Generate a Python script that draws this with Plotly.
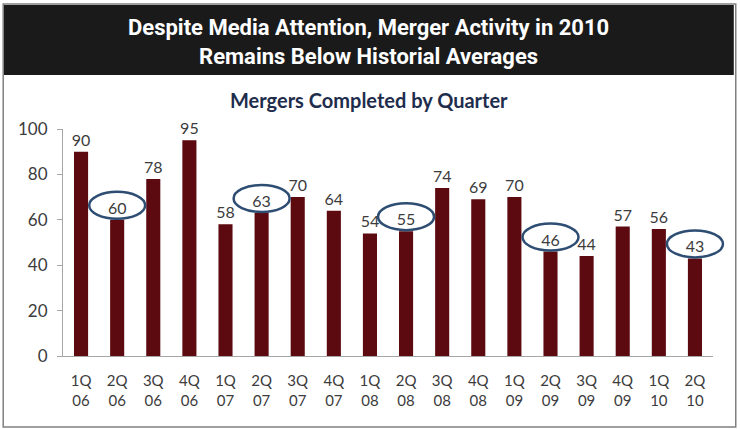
import plotly.graph_objects as go

# Data
quarters = ["1Q", "2Q", "3Q", "4Q", "1Q", "2Q", "3Q", "4Q", "1Q",
            "2Q", "3Q", "4Q", "1Q", "2Q", "3Q", "4Q", "1Q", "2Q"]
years = ["06", "06", "06", "06", "07", "07", "07", "07", "08",
         "08", "08", "08", "09", "09", "09", "09", "10", "10"]
mergers = [90, 60, 78, 95, 58, 63, 70, 64, 54, 55, 74, 69, 70, 46, 44, 57, 56, 43]
circled = [1, 5, 9, 13, 17]  # second-quarter values highlighted

labels = [q + "<br>" + y for q, y in zip(quarters, years)]
xs = list(range(len(mergers)))
n = len(xs)

BAR = "#5C0A10"
TXT = "#3C3C3C"
NAVY = "#1F2D4D"
RING = "#2E4D73"
FONT = "Lato, Open Sans, sans-serif"
COND = "Roboto, sans-serif"

fig = go.Figure(go.Bar(
    x=xs, y=mergers,
    marker=dict(color=BAR, line=dict(width=0)),
    text=mergers, textposition="outside", cliponaxis=False,
    constraintext="none",
    textfont=dict(family=FONT, size=16, color=TXT),
))

# ellipses round the 2Q labels (x in paper units so the last one isn't clipped)
shapes = []
for i in circled:
    shapes.append(dict(
        type="circle", xref="paper", yref="y",
        xsizemode="pixel", ysizemode="pixel",
        xanchor=(i + 0.5) / n, yanchor=mergers[i],
        x0=-28, x1=28, y0=1, y1=28,
        line=dict(color=RING, width=2.5),
    ))

# black header band and outer frame
shapes.append(dict(type="rect", xref="paper", yref="paper",
                   x0=-0.091, x1=1.032, y0=1.238, y1=1.546,
                   fillcolor="#1A1A1A", line=dict(width=0), layer="below"))
shapes.append(dict(type="rect", xref="paper", yref="paper",
                   x0=-0.092, x1=1.035, y0=-0.313, y1=1.551,
                   line=dict(color="#808080", width=1.5)))

fig.update_layout(
    width=740, height=429,
    margin=dict(l=63, r=27, t=129, b=73),
    paper_bgcolor="white", plot_bgcolor="white",
    showlegend=False, bargap=0.61,
    shapes=shapes,
    annotations=[
        dict(text="<b>Despite Media Attention, Merger Activity in 2010<br>Remains Below Historial Averages</b>",
             xref="paper", yref="paper", x=0.47, y=1.385,
             xanchor="center", yanchor="middle", showarrow=False,
             font=dict(family=COND, size=22, color="white")),
        dict(text="<b>Mergers Completed by Quarter</b>",
             xref="paper", yref="paper", x=0.47, y=1.128,
             xanchor="center", yanchor="middle", showarrow=False,
             font=dict(family=FONT, size=20, color=NAVY)),
    ],
)

fig.update_xaxes(
    tickmode="array", tickvals=xs, ticktext=labels,
    range=[-0.5, n - 0.5],
    showline=True, linecolor="#A6A6A6", linewidth=1,
    ticks="", showgrid=False, zeroline=False,
    ticklabelstandoff=11,
    tickfont=dict(family=FONT, size=15, color=TXT),
)
fig.update_yaxes(
    range=[0, 100], tickvals=[0, 20, 40, 60, 80, 100],
    showline=True, linecolor="#A6A6A6", linewidth=1,
    ticks="outside", ticklen=5, tickcolor="#A6A6A6",
    ticklabelstandoff=6, showgrid=False, zeroline=False,
    tickfont=dict(family=FONT, size=17, color=TXT),
)

# small tick marks between categories on the x axis
for b in range(n + 1):
    fig.add_shape(type="line", xref="x", yref="y",
                  ysizemode="pixel", yanchor=0, y0=0, y1=-5,
                  x0=b - 0.5, x1=b - 0.5,
                  line=dict(color="#A6A6A6", width=1))

fig.write_html("out.html", config={"displayModeBar": False},
               post_script="document.body.style.margin='0';")
